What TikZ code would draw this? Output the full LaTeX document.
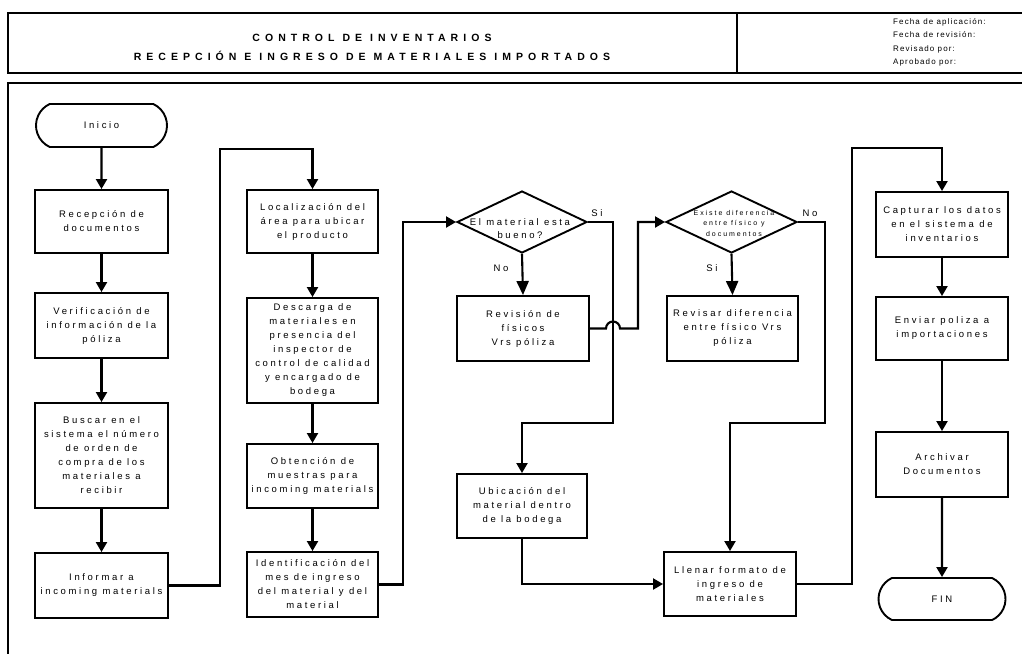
\documentclass[tikz,border=0pt]{standalone}
\usepackage{fontspec}
\setmainfont{Liberation Sans}
\newfontfamily\boxfont{Liberation Sans}[LetterSpace=28]
\newfontfamily\titlefont{Liberation Sans}[LetterSpace=48]
\newfontfamily\metafont{Liberation Sans}[LetterSpace=14]
\usetikzlibrary{arrows.meta,shapes.geometric,shapes.misc}

\tikzset{
  frame/.style={line width=1.8pt},
  proc/.style={draw, line width=1.9pt, minimum width=132pt, minimum height=65pt,
    align=center, inner sep=0pt, font=\boxfont\fontsize{9.5}{14}\selectfont},
  term/.style={draw, rounded rectangle, rounded rectangle arc length=130,
    line width=1.9pt, minimum width=131pt, minimum height=43pt, inner sep=0pt,
    font=\boxfont\fontsize{9.5}{14}\selectfont},
  dec/.style={draw, diamond, line width=1.9pt, minimum width=130pt,
    minimum height=62pt, inner sep=0pt},
  dectext/.style={align=center, inner sep=0pt},
  lbl/.style={font=\boxfont\fontsize{9.5}{12}\selectfont, inner sep=0pt},
  meta/.style={font=\metafont\fontsize{8}{9}\selectfont, anchor=west, inner sep=0pt},
  ttl/.style={font=\titlefont\bfseries\fontsize{10.5}{12}\selectfont, inner sep=0pt},
  flow/.style={line width=2.1pt, -{Triangle[length=10pt,width=11pt]}},
  flowbig/.style={line width=2.1pt, -{Triangle[length=14pt,width=12pt]}},
}

\begin{document}
\begin{tikzpicture}[x=1pt,y=-1pt]
\useasboundingbox (0,0) rectangle (1022,653);
\clip (0,0) rectangle (1022,653);

% header block
\draw[frame] (8,13) rectangle (1040,73);
\draw[frame] (737,13) -- (737,73);
\node[ttl] (t1) at (372,38) {CONTROL DE INVENTARIOS};
\node[ttl] (t2) at (372,56) {RECEPCIÓN E INGRESO DE MATERIALES IMPORTADOS};
\node[meta] (m1) at (893,22) {Fecha de aplicación:};
\node[meta] (m2) at (893,35) {Fecha de revisión:};
\node[meta] (m3) at (893,49) {Revisado por:};
\node[meta] (m4) at (893,62) {Aprobado por:};

% main frame
\draw[frame] (8,83) rectangle (1040,680);

% column 1
\node[term] (ini) at (101.5,125.5) {Inicio};
\node[proc, minimum width=133pt, minimum height=63pt] (rec) at (101.5,221.5) {Recepción de\\documentos};
\node[proc, minimum width=133pt] (ver) at (101.5,325.5) {Verificación de\\información de la\\póliza};
\node[proc, minimum width=133pt, minimum height=105pt] (bus) at (101.5,455.5) {Buscar en el\\sistema el número\\de orden de\\compra de los\\materiales a\\recibir};
\node[proc, minimum width=133pt] (inf) at (101.5,585.5) {Informar a\\incoming materials};

% column 2
\node[proc, minimum width=131pt, minimum height=63pt] (loc) at (312.5,221.5) {Localización del\\área para ubicar\\el producto};
\node[proc, minimum width=131pt, minimum height=105pt] (des) at (312.5,350.5) {Descarga de\\materiales en\\presencia del\\inspector de\\control de calidad\\y encargado de\\bodega};
\node[proc, minimum width=131pt, minimum height=64pt] (obt) at (312.5,476) {Obtención de\\muestras para\\incoming materials};
\node[proc, minimum width=131pt] (ide) at (312.5,584.5) {Identificación del\\mes de ingreso\\del material y del\\material};

% column 3
\node[dec] (d1) at (522,222) {};
\node[dectext, font=\boxfont\fontsize{9.5}{13}\selectfont] (d1t) at (520,229) {El material esta\\bueno?};
\node[proc] (rev) at (523,328.5) {Revisión de\\físicos\\Vrs póliza};
\node[proc, minimum width=130pt, minimum height=64pt] (ubi) at (522,506) {Ubicación del\\material dentro\\de la bodega};

% column 4
\node[dec, minimum width=131pt] (d2) at (731.5,222) {};
\node[dectext, font=\boxfont\fontsize{7}{10.5}\selectfont] (d2t) at (734,223) {Existe diferencia\\entre físico y\\documentos};
\node[proc, minimum width=131pt] (rvd) at (732.5,328.5) {Revisar diferencia\\entre físico Vrs\\póliza};
\node[proc, minimum height=64pt] (lle) at (730,584) {Llenar formato de\\ingreso de\\materiales};

% column 5
\node[proc] (cap) at (942,224.5) {Capturar los datos\\en el sistema de\\inventarios};
\node[proc, minimum height=63pt] (env) at (942,328.5) {Enviar poliza a\\importaciones};
\node[proc] (arc) at (942,464.5) {Archivar\\Documentos};
\node[term, minimum width=127pt, minimum height=42pt] (fin) at (942,599) {FIN};

% branch labels
\node[lbl] (s1) at (597,213) {Si};
\node[lbl] (n1) at (501,268) {No};
\node[lbl] (n2) at (810,213) {No};
\node[lbl] (s2) at (712,268) {Si};

% corner points of the routed connectors
\coordinate (j1) at (220,149);
\coordinate (j2) at (403,222);
\coordinate (j3) at (613,423);
\coordinate (j4) at (825,423);
\coordinate (j5) at (852,148);

% straight flows
\draw[flow] (ini) -- (rec);
\draw[flow] (rec) -- (ver);
\draw[flow] (ver) -- (bus);
\draw[flow] (bus) -- (inf);
\draw[flow] (loc) -- (des);
\draw[flow] (des) -- (obt);
\draw[flow] (obt) -- (ide);
\draw[flow] (cap) -- (env);
\draw[flow] (env) -- (arc);
\draw[flow] (arc) -- (fin);
\draw[flowbig] (d1.south) -- (rev.north);
\draw[flowbig] (d2.south) -- (rvd.north);

% routed flows
\draw[flow] (inf.east) -| (j1) -| (loc.north);
\draw[flow] (ide.east) -| (j2) -- (d1.west);
\draw[flow] (d1.east) -| (j3) -| (ubi.north);
\draw[flow] (d2.east) -| (j4) -| (lle.north);
\draw[flow] (ubi.south) |- (lle.west);
\draw[flow] (lle.east) -| (j5) -| (cap.north);
\draw[flow] (rev.east) -- (606,328.5) arc[start angle=180, end angle=360, radius=7]
  -- (638,328.5) |- (d2.west);
\end{tikzpicture}
\end{document}
